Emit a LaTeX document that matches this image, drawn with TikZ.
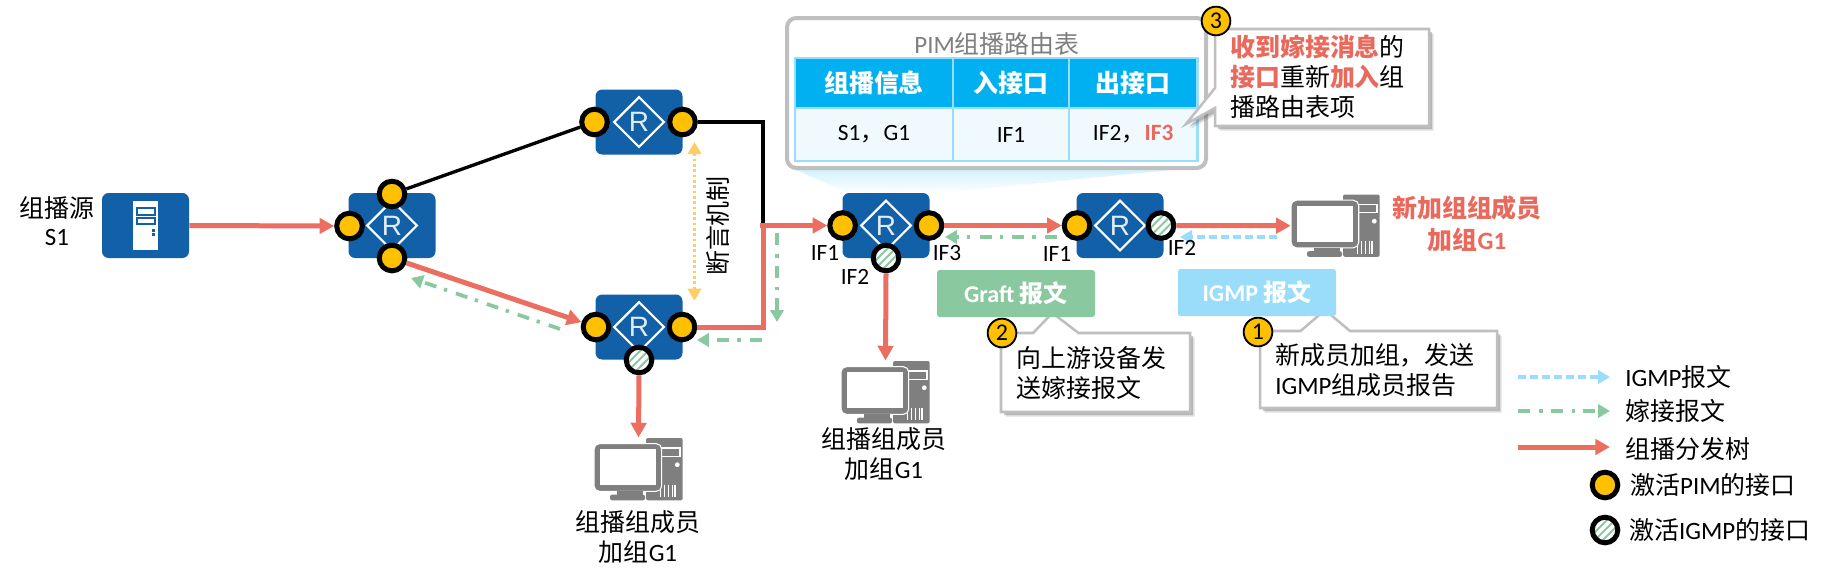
\documentclass[tikz,border=0pt]{standalone}
\usepackage{fontspec}
\usetikzlibrary{arrows.meta,shapes.geometric,shadows,calc}
\setmainfont{Carlito}
\newfontfamily\cjk{Noto Sans CJK SC}
\newfontfamily\rfont{Liberation Sans}
\newcommand\zh[1]{{\cjk #1}}
\definecolor{routerblue}{HTML}{1160A8}
\definecolor{redline}{HTML}{EC6E60}
\definecolor{redtext}{HTML}{E96A5C}
\definecolor{greenline}{HTML}{8AC9A0}
\definecolor{blueline}{HTML}{99DDFA}
\definecolor{yellowport}{HTML}{FFC000}
\definecolor{yellowline}{HTML}{FFCC66}
\definecolor{pcgray}{HTML}{7F7F7F}
\definecolor{framegray}{HTML}{BFBFBF}
\definecolor{tblhead}{HTML}{00B0F0}
\definecolor{tblbody}{HTML}{F0F9FD}
\definecolor{tblline}{HTML}{99DDFA}
\tikzset{
  routerbox/.style={draw=none,fill=routerblue,rounded corners=5pt,minimum width=65.25pt,minimum height=48.75pt,inner sep=0pt},
  routermark/.style={diamond,draw=white,line width=1.7pt,fill=routerblue,aspect=1,minimum width=38pt,minimum height=38pt,inner sep=0pt,text=white!88!routerblue,font=\rfont\fontsize{21}{21}\selectfont},
  pimport/.style={circle,draw=black,fill=yellowport,line width=3.75pt,minimum size=19.2pt,inner sep=0pt},
  igmpport/.style={circle,draw=black,fill=white,line width=3.75pt,minimum size=19.2pt,inner sep=0pt,
    path picture={\foreach \k in {-24,-18,...,24}{\draw[greenline,line width=1.5pt]
      ($(path picture bounding box.center)+(\k pt-14pt,-14pt)$) -- ++(28pt,28pt);}}},
  redarrow/.style={draw=redline,line width=3.75pt,-{Triangle[length=11pt,width=11.5pt]}},
  redplain/.style={draw=redline,line width=3.75pt},
  blackline/.style={draw=black,line width=2.5pt},
  greenarrow/.style={draw=greenline,line width=2.8pt,dash pattern=on 9pt off 7pt on 2.5pt off 6pt,-{Triangle[length=9pt,width=10pt]}},
  bluearrow/.style={draw=blueline,line width=2.8pt,dash pattern=on 6pt off 3pt,-{Triangle[length=9pt,width=10pt]}},
  yellowarrow/.style={draw=yellowline,line width=2.6pt,dash pattern=on 2pt off 2pt,{Triangle[length=9pt,width=10pt]}-{Triangle[length=9pt,width=10pt]}},
  label18/.style={inner sep=0pt,font=\fontsize{18.7}{22.5}\selectfont,align=center},
  iflabel/.style={inner sep=0pt,font=\fontsize{17.5}{20}\selectfont},
  lefttext/.style={label18,align=left,anchor=west},
  msgbox/.style={rounded corners=2pt,inner sep=0pt,minimum width=118.5pt,minimum height=35.25pt,text=white,font=\bfseries\fontsize{18}{20}\selectfont},
  headcell/.style={draw=tblline,line width=1.7pt,fill=tblhead,text=white,inner sep=0pt,font=\bfseries\fontsize{18.7}{20}\selectfont},
  bodycell/.style={draw=tblline,line width=1.7pt,fill=tblbody,inner sep=0pt,font=\fontsize{17.5}{20}\selectfont},
  calloutbody/.style={draw=framegray,line width=1.9pt,fill=white,line join=miter,
    drop shadow={shadow xshift=3.5pt,shadow yshift=-3.5pt,opacity=.18,fill=black!65},
    drop shadow={shadow xshift=2.4pt,shadow yshift=-2.4pt,opacity=.3,fill=black!65}},
  stepmark/.style={circle,draw=black,fill=yellowport,line width=1.4pt,minimum size=21.5pt,inner sep=0pt,font=\fontsize{18}{18}\selectfont},
  pcframe/.style={inner sep=0pt,minimum width=66.75pt,minimum height=47.25pt},
}
\newcommand\routernode[2]{\node[routerbox] (#1) at (#2) {};\node[routermark] (#1m) at (#1) {R};}
\newcommand\pcicon[2]{%
  \node[pcframe] (#1) at ($(#2)+(44.5,31.2)$) {};
  \begin{scope}[shift={(#2)}]
    \fill[pcgray,rounded corners=1.5pt] (52,0) rectangle (88.7,62.3);
    \draw[white,line width=.9pt] (67.7,10) rectangle (86,18.3);
    \fill[white] (83.3,26.7) circle (1.8pt);
    \foreach \u in {66.7,70.5,74.3,78.1,81}{\draw[white,line width=.8pt] (\u,46.7) -- (\u,59);}
    \fill[pcgray,draw=white,line width=.8pt,rounded corners=4pt] (0,5.7) rectangle (67.7,53.3);
    \fill[white] (6,11) rectangle (62,47.3);
    \fill[pcgray] (22.7,53.3) rectangle (49.3,57);
    \fill[pcgray,rounded corners=1.5pt] (16,56.7) rectangle (51,62.3);
  \end{scope}}
\begin{document}
\begin{tikzpicture}[x=0.75pt,y=-0.75pt]
\useasboundingbox (0,0) rectangle (1830,583);
\fill[white] (0,0) rectangle (1830,583);

% routing-table callout
\shade[top color=tblhead!18,bottom color=white] (792,168) -- (850,194) -- (930,194) -- (1190,168) -- cycle;
\node[draw=framegray,line width=3pt,fill=white,rounded corners=7pt,inner sep=0pt,minimum width=314.25pt,minimum height=112.5pt] (tablepanel) at (996.5,93) {};
\node[label18,text=pcgray] (tabletitle) at (997,44) {PIM\zh{组播路由表}};
\node[headcell,minimum width=118.5pt,minimum height=37.5pt] (h1) at (874,83) {\zh{组播信息}};
\node[headcell,minimum width=87pt,minimum height=37.5pt] (h2) at (1011,83) {\zh{入接口}};
\node[headcell,minimum width=96.4pt,minimum height=37.5pt] (h3) at (1133.2,83) {\zh{出接口}};
\node[bodycell,minimum width=118.5pt,minimum height=39.75pt] (c1) at (874,134.5) {S1\zh{，}G1};
\node[bodycell,minimum width=87pt,minimum height=39.75pt] (c2) at (1011,134.5) {IF1};
\node[bodycell,minimum width=96.4pt,minimum height=39.75pt] (c3) at (1133.2,134.5) {IF2\zh{，}\textcolor{redtext}{\bfseries IF3}};

% callout 3
\path[calloutbody] (1215,29) -- (1429,29) -- (1429,126) -- (1215,126) -- (1215,108) -- (1186,124) -- (1215,88) -- cycle;
\node[lefttext] (note3) at (1230,77) {\textcolor{redtext}{\bfseries\zh{收到嫁接消息}}\zh{的}\\\textcolor{redtext}{\bfseries\zh{接口}}\zh{重新}\textcolor{redtext}{\bfseries\zh{加入}}\zh{组}\\\zh{播路由表项}};

% devices
\node[routerbox] (srv) at (145.5,225.5) {};
\fill[white] (133,200.7) rectangle (158,250);
\draw[routerblue,line width=1.3pt] (137,208) rectangle (155,215);
\draw[routerblue,line width=1.3pt] (137,218) rectangle (155,224);
\fill[routerblue] (151.5,229) rectangle (155,231.5);
\fill[routerblue] (151.5,233) rectangle (155,235.5);

\routernode{r1}{392,225.5}
\routernode{r2}{639,122}
\routernode{r3}{639,327}
\routernode{r4}{886,225.5}
\routernode{r5}{1120,225.5}

\node[pimport] (r1l) at (349.5,226) {};
\node[pimport] (r1t) at (392,194) {};
\node[pimport] (r1b) at (392,258) {};
\node[pimport] (r2l) at (594.5,122) {};
\node[pimport] (r2r) at (682.5,122) {};
\node[pimport] (r3l) at (596,327) {};
\node[pimport] (r3r) at (682,327) {};
\node[igmpport] (r3b) at (639,360) {};
\node[pimport] (r4l) at (842.6,225.5) {};
\node[pimport] (r4r) at (929,225.5) {};
\node[igmpport] (r4b) at (886,258) {};
\node[pimport] (r5l) at (1077,225.5) {};
\node[igmpport] (r5r) at (1161,225.5) {};

\pcicon{pc1}{1291,194.5}
\pcicon{pc2}{841,361}
\pcicon{pc3}{594,438}

% free ends
\coordinate (busx) at (763,225.5);
\coordinate (r1greenA) at (560,329);
\coordinate (r1greenB) at (411,278);
\coordinate (r3greenA) at (762,340);
\coordinate (r3greenB) at (697,340);
\coordinate (busgreenA) at (777,233);
\coordinate (busgreenB) at (777,322);
\coordinate (r4greenA) at (1057,237);
\coordinate (r4greenB) at (945,237);
\coordinate (r5blueA) at (1277,237);
\coordinate (r5blueB) at (1180,237);
\coordinate (assertA) at (694.5,142);
\coordinate (assertB) at (694.5,300.7);

% connectors
\draw[blackline] (r1t) -- (r2l);
\draw[blackline] (r2r) -| (busx);
\draw[redarrow] (srv.east) -- (r1l.west);
\draw[redarrow] (r1b) -- (r3l);
\draw[redplain] (r3r.east) -| (busx);
\draw[redarrow] ($(busx)+(-1.9pt,0)$) -- (r4l.west);
\draw[redarrow] (r4r.east) -- (r5l.west);
\draw[redarrow] (r5r.east) -- (pc1.west);
\draw[redarrow] (r3b.south) -- (pc3.north);
\draw[redarrow] (r4b.south) -- (pc2.north);
\draw[greenarrow] (r1greenA) -- (r1greenB);
\draw[greenarrow] (r3greenA) -- (r3greenB);
\draw[greenarrow] (busgreenA) -- (busgreenB);
\draw[greenarrow] (r4greenA) -- (r4greenB);
\draw[bluearrow] (r5blueA) -- (r5blueB);
\draw[yellowarrow] (assertA) -- (assertB);

% labels
\node[label18] (srvlabel) at (57,221) {\zh{组播源}\\[-2pt]S1};
\node[label18,rotate=90] (assertlabel) at (718,226) {\zh{断言机制}};
\node[iflabel] (if41) at (825,253) {IF1};
\node[iflabel] (if43) at (947,253) {IF3};
\node[iflabel] (if42) at (855,277) {IF2};
\node[iflabel] (if51) at (1057,254) {IF1};
\node[iflabel] (if52) at (1182,248) {IF2};
\node[label18,text=redtext,font=\bfseries\fontsize{18.7}{24}\selectfont] (newmember) at (1467,224) {\zh{新加组组成员}\\\zh{加组}G1};
\node[label18] (pc2label) at (884,454) {\zh{组播组成员}\\\zh{加组}G1};
\node[label18] (pc3label) at (638,537.5) {\zh{组播组成员}\\\zh{加组}G1};

% message boxes and their callouts
\path[calloutbody] (1001,333) -- (1033,333) -- (1052.5,313) -- (1078.5,333) -- (1190,333) -- (1190,412) -- (1001,412) -- cycle;
\path[calloutbody] (1260,331) -- (1300.5,331) -- (1325,310) -- (1350,331) -- (1497,331) -- (1497,408) -- (1260,408) -- cycle;
\node[msgbox,fill=greenline] (graftbox) at (1016,293.5) {Graft \zh{报文}};
\node[msgbox,fill=blueline] (igmpbox) at (1257,292.5) {IGMP \zh{报文}};
\node[lefttext] (note2) at (1016.5,373) {\zh{向上游设备发}\\\zh{送嫁接报文}};
\node[lefttext] (note1) at (1275,370.5) {\zh{新成员加组，发送}\\IGMP\zh{组成员报告}};

\node[stepmark] (step1) at (1258,332) {1};
\node[stepmark] (step2) at (1002,333) {2};
\node[stepmark] (step3) at (1216,21) {3};

% legend
\coordinate (lgA1) at (1518,377);
\coordinate (lgB1) at (1610,377);
\coordinate (lgA2) at (1518,411);
\coordinate (lgB2) at (1610,411);
\coordinate (lgA3) at (1518,447);
\coordinate (lgB3) at (1610,447);
\draw[bluearrow] (lgA1) -- (lgB1);
\draw[greenarrow] (lgA2) -- (lgB2);
\draw[redarrow] (lgA3) -- (lgB3);
\node[lefttext] (lgt1) at (1625,377) {IGMP\zh{报文}};
\node[lefttext] (lgt2) at (1625,411) {\zh{嫁接报文}};
\node[lefttext] (lgt3) at (1625,449) {\zh{组播分发树}};
\node[pimport] (lgp1) at (1605,485) {};
\node[igmpport] (lgp2) at (1605,530) {};
\node[lefttext] (lgt4) at (1630,485) {\zh{激活}PIM\zh{的接口}};
\node[lefttext] (lgt5) at (1629,530) {\zh{激活}IGMP\zh{的接口}};
\end{tikzpicture}
\end{document}
